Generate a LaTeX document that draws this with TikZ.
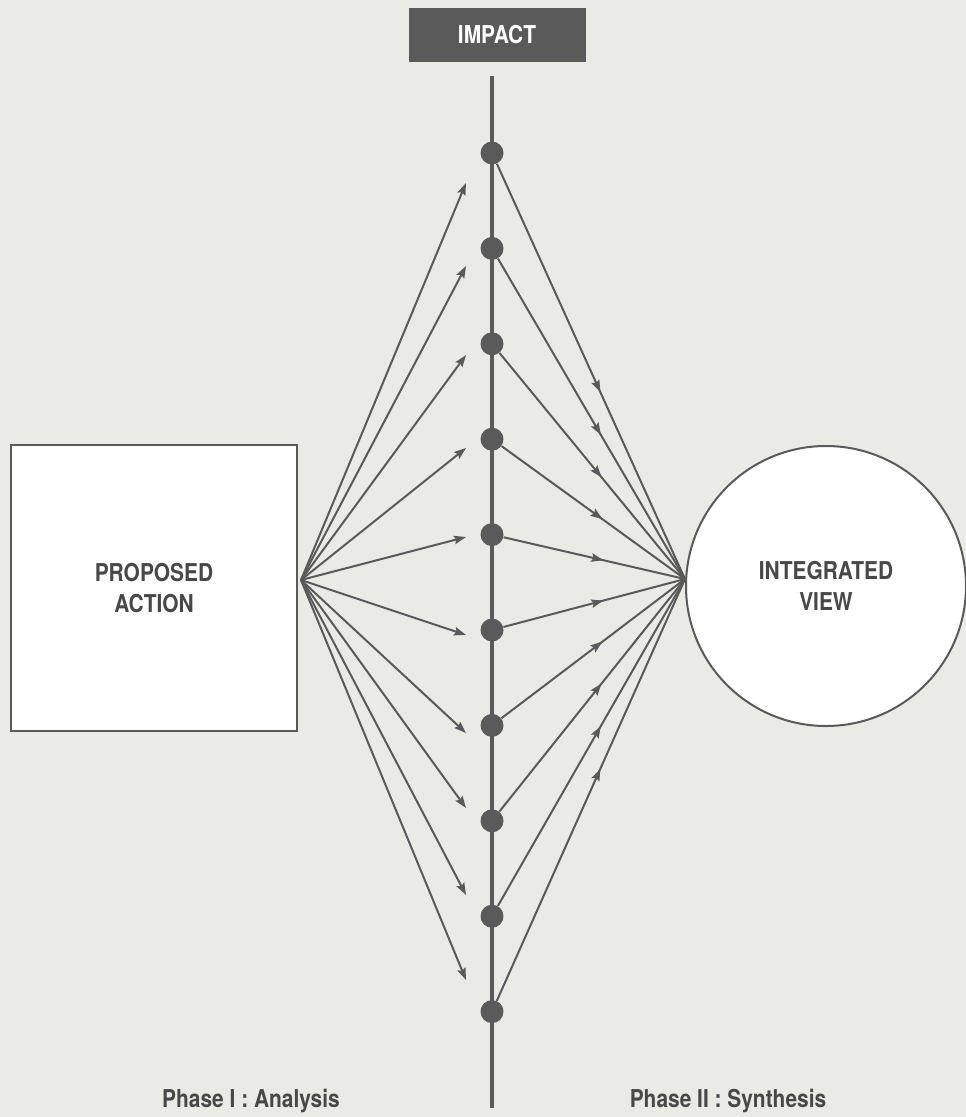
\documentclass[tikz,border=0pt]{standalone}
\usepackage{fontspec}
\setsansfont{TeX Gyre Heros}[FakeStretch=0.85]
\usepackage{tikz}
\usetikzlibrary{arrows.meta,positioning,calc,decorations.markings}
\definecolor{paper}{RGB}{234,234,231}
\definecolor{ink}{RGB}{90,90,90}
\definecolor{labelgray}{RGB}{72,72,72}

\begin{document}
\begin{tikzpicture}[
  x=0.2mm, y=-0.2mm,
  lbl/.style={font=\sffamily\bfseries\fontsize{14}{17.5}\selectfont, text=labelgray, align=center},
  actionbox/.style={draw=ink, line width=0.4mm, fill=white, minimum width=57.2mm, minimum height=57.2mm, lbl},
  viewcircle/.style={circle, draw=ink, line width=0.4mm, fill=white, minimum size=56mm, inner sep=0pt, lbl},
  impactbox/.style={fill=ink, minimum width=35.4mm, minimum height=10.8mm, lbl, text=white},
  dot/.style={circle, fill=ink, inner sep=0pt, minimum size=4.6mm},
  arrow/.style={-{Stealth[length=2.4mm, width=1.7mm, inset=0.4mm]}, color=ink, line width=0.4mm},
  midarrow/.style={color=ink, line width=0.4mm, postaction={decorate},
    decoration={markings, mark=at position 0.55 with {\arrow{Stealth[length=2.4mm, width=1.7mm, inset=0.4mm]}}}},
  phase/.style={lbl, anchor=base}
]
  \fill[paper] (0,0) rectangle (966,1117);
  \useasboundingbox (0,0) rectangle (966,1117);

  % Impact axis
  \node[impactbox] (impact) at (497,35) {IMPACT};
  \coordinate (axtop) at (492,76);
  \coordinate (axbot) at (492,1108);
  \draw[ink, line width=0.8mm] (axtop) -- (axbot);

  % Action and view
  \node[actionbox] (action) at (154,588) {PROPOSED\\ACTION};
  \node[viewcircle] (view) at (826,586) {INTEGRATED\\VIEW};
  \coordinate (fanL) at (301,580);
  \coordinate (fanR) at (685,579);

  % Impact points
  \foreach \i in {1,...,10}
    \node[dot] (d\i) at (492,{153+95.4*(\i-1)}) {};

  % Phase I : analysis arrows
  \foreach \i/\ty in {1/183, 2/266, 3/355, 4/448, 5/537, 6/635, 7/733, 8/808, 9/895, 10/980} {
    \coordinate (t\i) at (466,\ty);
    \draw[arrow] (fanL) -- (t\i);
  }

  % Phase II : synthesis arrows
  \foreach \i in {1,...,10}
    \draw[midarrow] (d\i) -- (fanR);

  % Phase labels
  \node[phase] (analysis) at (251,1107) {Phase I : Analysis};
  \node[phase] (synthesis) at (728,1107) {Phase II : Synthesis};
\end{tikzpicture}
\end{document}
